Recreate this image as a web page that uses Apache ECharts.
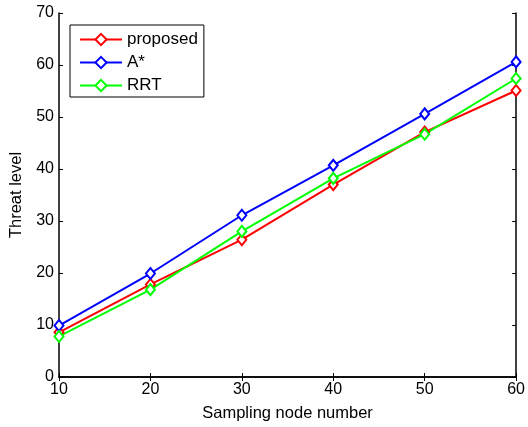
<!DOCTYPE html>
<html>
<head>
<meta charset="utf-8">
<script src="https://cdn.jsdelivr.net/npm/echarts@6/dist/echarts.min.js"></script>
<style>
  html, body { margin: 0; padding: 0; background: #fff; }
  #chart { width: 528px; height: 427px; }
</style>
</head>
<body>
<div id="chart"></div>
<script>
var nodes = [10, 20, 30, 40, 50, 60];
var proposed = [8.6, 17.8, 26.4, 37, 47.1, 55.1];
var aStar = [9.9, 19.9, 31.1, 40.7, 50.6, 60.6];
var rrt = [7.8, 16.8, 28, 38.2, 46.7, 57.4];

var myChart = echarts.init(document.getElementById('chart'));

function mkSeries(name, vals, color) {
  return {
    name: name,
    type: 'line',
    data: nodes.map(function (x, i) { return [x, vals[i]]; }),
    symbol: 'emptyDiamond',
    symbolSize: [9, 11],
    lineStyle: { color: color, width: 2 },
    itemStyle: { color: color, borderWidth: 1.5 },
    animation: false
  };
}

var tickStyle = { inside: true, length: 4, lineStyle: { color: '#000' } };
var lineStyle = { lineStyle: { color: '#000', width: 1.5 } };
var font = 'Liberation Sans, Arial, sans-serif';

var option = {
  backgroundColor: '#fff',
  grid: { left: 57, right: 8, top: 13, bottom: 50 },
  legend: {
    orient: 'vertical',
    left: 70,
    top: 25,
    data: ['proposed', 'A*', 'RRT'],
    itemWidth: 42,
    itemHeight: 14,
    itemGap: 6,
    padding: [6, 6, 3, 9],
    borderColor: '#000',
    borderWidth: 1,
    borderRadius: 0,
    textStyle: { fontFamily: font, fontSize: 17, color: '#000' }
  },
  xAxis: [{
    type: 'value', min: 10, max: 60, interval: 10,
    name: 'Sampling node number', nameLocation: 'middle', nameGap: 28,
    nameTextStyle: { fontFamily: font, fontSize: 16.5, color: '#000' },
    axisLine: lineStyle, axisTick: tickStyle,
    axisLabel: { fontFamily: font, fontSize: 16, color: '#000', margin: 5 },
    splitLine: { show: false }
  }, {
    type: 'value', position: 'top', min: 10, max: 60, interval: 10,
    axisLine: lineStyle, axisTick: tickStyle,
    axisLabel: { show: false }, splitLine: { show: false }
  }],
  yAxis: [{
    type: 'value', min: 0, max: 70, interval: 10,
    name: 'Threat level', nameLocation: 'middle', nameGap: 34,
    nameTextStyle: { fontFamily: font, fontSize: 16.5, color: '#000' },
    axisLine: lineStyle, axisTick: tickStyle,
    axisLabel: { fontFamily: font, fontSize: 16, color: '#000', margin: 5 },
    splitLine: { show: false }
  }, {
    type: 'value', position: 'right', min: 0, max: 70, interval: 10,
    axisLine: lineStyle, axisTick: tickStyle,
    axisLabel: { show: false }, splitLine: { show: false }
  }],
  series: [
    mkSeries('proposed', proposed, '#ff0000'),
    mkSeries('A*', aStar, '#0000ff'),
    mkSeries('RRT', rrt, '#00ff00')
  ]
};

myChart.setOption(option);
</script>
</body>
</html>
